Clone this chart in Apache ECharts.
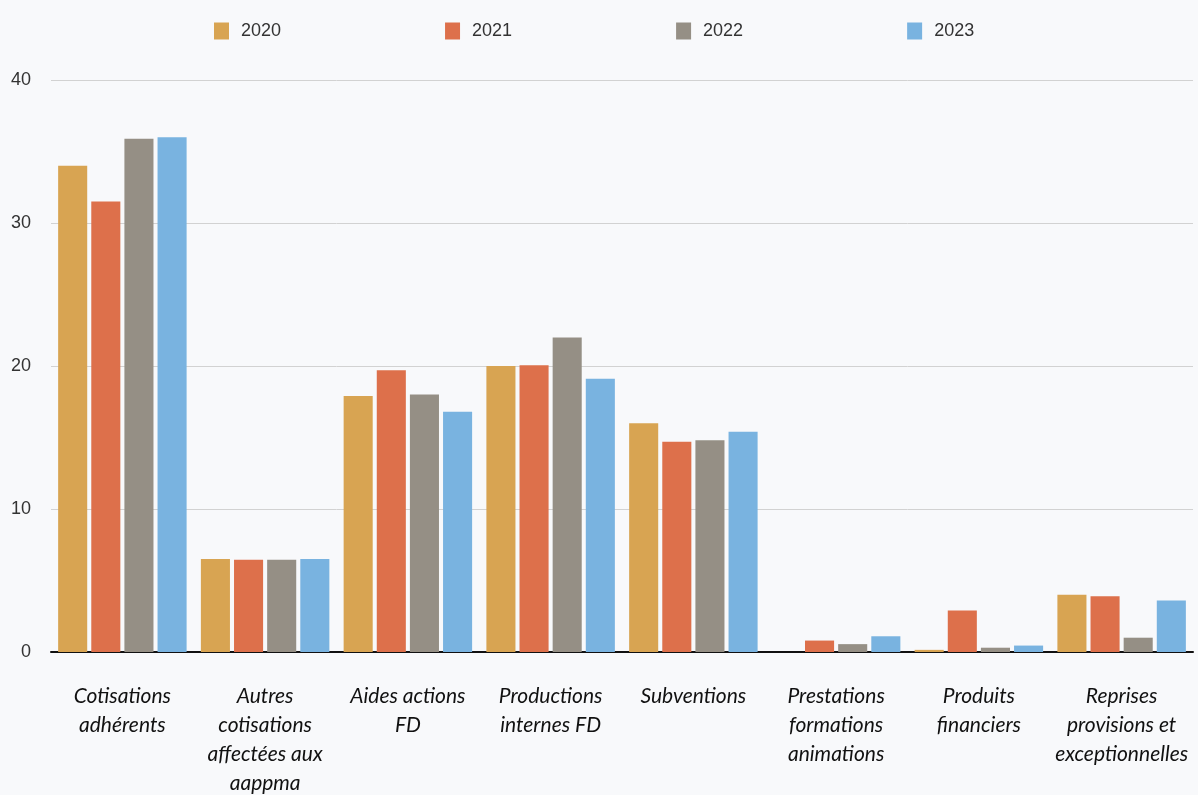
<!DOCTYPE html>
<html lang="fr">
<head>
    <meta charset="UTF-8"/>
    <title>Produits par poste</title>
    <script src="https://cdn.jsdelivr.net/npm/echarts@6/dist/echarts.min.js"></script>
    <style>
        html, body { margin: 0; padding: 0; background: #f8f9fb; }
        #chart { width: 1198px; height: 795px; }
    </style>
</head>
<body>
<div id="chart"></div>
<script type="text/javascript">
    // categories (line breaks as they appear under the axis)
    var categories = [
        'Cotisations\nadhérents',
        'Autres\ncotisations\naffectées aux\naappma',
        'Aides actions\nFD',
        'Productions\ninternes FD',
        'Subventions',
        'Prestations\nformations\nanimations',
        'Produits\nfinanciers',
        'Reprises\nprovisions et\nexceptionnelles'
    ];
    var years = ['2020', '2021', '2022', '2023'];

    var values2020 = [34.0, 6.5, 17.9, 20.0, 16.0, 0, 0.15, 4.0];
    var values2021 = [31.5, 6.45, 19.7, 20.05, 14.7, 0.8, 2.9, 3.9];
    var values2022 = [35.9, 6.45, 18.0, 22.0, 14.8, 0.55, 0.3, 1.0];
    var values2023 = [36.0, 6.5, 16.8, 19.1, 15.4, 1.1, 0.45, 3.6];

    var yTicks = [0, 10, 20, 30, 40];

    var colors = ['#d8a452', '#dd704b', '#958f85', '#79b3e0'];
    var allValues = [values2020, values2021, values2022, values2023];

    var series = [];
    for (var i = 0; i < years.length; i++) {
        series.push({
            name: years[i],
            type: 'bar',
            data: allValues[i],
            barGap: '14%',
            barCategoryGap: '10%',
            itemStyle: {color: colors[i]}
        });
    }

    var myChart = echarts.init(document.getElementById('chart'));
    var option = {
        backgroundColor: '#f8f9fb',
        animation: false,
        color: colors,
        legend: {
            data: years,
            left: 209,
            top: 17,
            itemWidth: 15,
            itemHeight: 17,
            itemGap: 164,
            icon: 'rect',
            textStyle: {
                fontFamily: 'Liberation Sans',
                fontSize: 18,
                color: '#333',
                padding: [0, 0, 0, 7]
            }
        },
        grid: {
            left: 51,
            right: 5,
            top: 80,
            bottom: 143,
            outerBoundsMode: 'none'
        },
        xAxis: {
            type: 'category',
            data: categories,
            axisLine: {show: true, lineStyle: {color: '#111', width: 2}},
            axisTick: {show: false},
            axisLabel: {
                interval: 0,
                margin: 30,
                fontFamily: 'Lato',
                fontStyle: 'italic',
                fontSize: 21,
                lineHeight: 29,
                color: '#111'
            }
        },
        yAxis: {
            type: 'value',
            min: yTicks[0],
            max: yTicks[yTicks.length - 1],
            interval: 10,
            axisLine: {show: false},
            axisTick: {show: false},
            splitLine: {lineStyle: {color: '#d2d2d2', width: 1}},
            axisLabel: {
                margin: 20,
                fontFamily: 'Liberation Sans',
                fontSize: 18,
                color: '#333'
            }
        },
        series: series
    };
    myChart.setOption(option);
</script>
</body>
</html>
